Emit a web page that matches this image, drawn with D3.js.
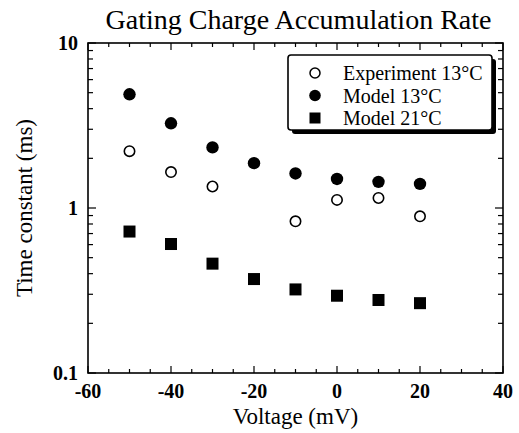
<!DOCTYPE html>
<html>
<head>
<meta charset="utf-8">
<script src="https://cdn.jsdelivr.net/npm/d3@7"></script>
<style>
  body { margin: 0; background: #fff; }
  text { font-family: "Liberation Serif", "Times New Roman", serif; fill: #000; }
</style>
</head>
<body>
<div id="chart"></div>
<script>
// voltages (mV)
const voltages = [-50, -40, -30, -20, -10, 0, 10, 20]
// time constants (ms)
const experiment13 = [2.21, 1.65, 1.35, null, 0.83, 1.12, 1.15, 0.89]
const model13 = [4.89, 3.26, 2.33, 1.87, 1.62, 1.50, 1.44, 1.40]
const model21 = [0.72, 0.605, 0.46, 0.371, 0.321, 0.294, 0.277, 0.265]

const xTickLabels = [-60, -40, -20, 0, 20, 40]
const yTickLabels = [0.1, 1, 10]

const width = 519, height = 433
const margin = {top: 43, right: 16, bottom: 60, left: 88}

const svg = d3.select("#chart").append("svg")
  .attr("width", width)
  .attr("height", height)

const x = d3.scaleLinear().domain([-60, 40]).range([margin.left, width - margin.right])
const y = d3.scaleLog().domain([0.1, 10]).range([height - margin.bottom, margin.top])

const x0 = x.range()[0], x1 = x.range()[1]
const y0 = y.range()[0], y1 = y.range()[1]

// title
svg.append("text")
  .attr("x", (x0 + x1) / 2 + 3)
  .attr("y", 29)
  .attr("text-anchor", "middle")
  .attr("font-size", 28)
  .text("Gating Charge Accumulation Rate")

// frame
svg.append("rect")
  .attr("x", x0).attr("y", y1)
  .attr("width", x1 - x0).attr("height", y0 - y1)
  .attr("fill", "none")
  .attr("stroke", "#000")
  .attr("stroke-width", 1.6)

// x ticks (bottom + top, inward)
const xTicks = d3.range(-60, 41, 5)
const tickG = svg.append("g").attr("stroke", "#000").attr("stroke-width", 1.2)
xTicks.forEach(v => {
  let len = xTickLabels.includes(v) ? 7 : 4
  tickG.append("line").attr("x1", x(v)).attr("x2", x(v)).attr("y1", y0).attr("y2", y0 - len)
  tickG.append("line").attr("x1", x(v)).attr("x2", x(v)).attr("y1", y1).attr("y2", y1 + len)
})

// y ticks (left + right, inward)
const yTicks = y.ticks()
yTicks.forEach(v => {
  let major = yTickLabels.includes(v)
  let len = major ? 8 : 5
  tickG.append("line").attr("x1", x0).attr("x2", x0 + len).attr("y1", y(v)).attr("y2", y(v))
  tickG.append("line").attr("x1", x1).attr("x2", x1 - len).attr("y1", y(v)).attr("y2", y(v))
})

// tick labels
svg.append("g").selectAll("text")
  .data(xTickLabels)
  .enter().append("text")
  .attr("x", d => x(d))
  .attr("y", y0 + 25)
  .attr("text-anchor", "middle")
  .attr("font-size", 20)
  .attr("font-weight", "bold")
  .text(d => d)

svg.append("g").selectAll("text")
  .data(yTickLabels)
  .enter().append("text")
  .attr("x", x0 - 10)
  .attr("y", d => y(d) + 7)
  .attr("text-anchor", "end")
  .attr("font-size", 20)
  .attr("font-weight", "bold")
  .text(d => d)

// axis titles
svg.append("text")
  .attr("x", (x0 + x1) / 2)
  .attr("y", 424)
  .attr("text-anchor", "middle")
  .attr("font-size", 23)
  .text("Voltage (mV)")

svg.append("text")
  .attr("transform", "translate(32," + (y0 + y1) / 2 + ") rotate(-90)")
  .attr("text-anchor", "middle")
  .attr("font-size", 23)
  .text("Time constant (ms)")

// data
const pts = (vals) => voltages.map((v, i) => ({v: v, t: vals[i]})).filter(d => d.t != null)

svg.append("g").selectAll("circle")
  .data(pts(experiment13))
  .enter().append("circle")
  .attr("cx", d => x(d.v)).attr("cy", d => y(d.t))
  .attr("r", 5.2)
  .attr("fill", "#fff")
  .attr("stroke", "#000")
  .attr("stroke-width", 1.6)

svg.append("g").selectAll("circle")
  .data(pts(model13))
  .enter().append("circle")
  .attr("cx", d => x(d.v)).attr("cy", d => y(d.t))
  .attr("r", 6.2)
  .attr("fill", "#000")

svg.append("g").selectAll("rect")
  .data(pts(model21))
  .enter().append("rect")
  .attr("x", d => x(d.v) - 6).attr("y", d => y(d.t) - 6)
  .attr("width", 12).attr("height", 12)
  .attr("fill", "#000")

// legend
const lg = svg.append("g")
lg.append("rect")
  .attr("x", 292).attr("y", 59).attr("width", 204).attr("height", 75)
  .attr("rx", 3)
  .attr("fill", "#000")
lg.append("rect")
  .attr("x", 288).attr("y", 55).attr("width", 204).attr("height", 75)
  .attr("rx", 3)
  .attr("fill", "#fff")
  .attr("stroke", "#000")
  .attr("stroke-width", 1.6)

const legendNames = ["Experiment 13°C", "Model 13°C", "Model 21°C"]
legendNames.forEach((name, i) => {
  let cy = 73 + i * 22.5
  if (i == 0) {
    lg.append("circle").attr("cx", 315).attr("cy", cy).attr("r", 5).attr("fill", "#fff").attr("stroke", "#000").attr("stroke-width", 1.5)
  } else if (i == 1) {
    lg.append("circle").attr("cx", 315).attr("cy", cy).attr("r", 5.8).attr("fill", "#000")
  } else {
    lg.append("rect").attr("x", 309.5).attr("y", cy - 5.5).attr("width", 11).attr("height", 11).attr("fill", "#000")
  }
  lg.append("text")
    .attr("x", 343)
    .attr("y", cy + 7)
    .attr("font-size", 20)
    .text(name)
})
</script>
</body>
</html>
